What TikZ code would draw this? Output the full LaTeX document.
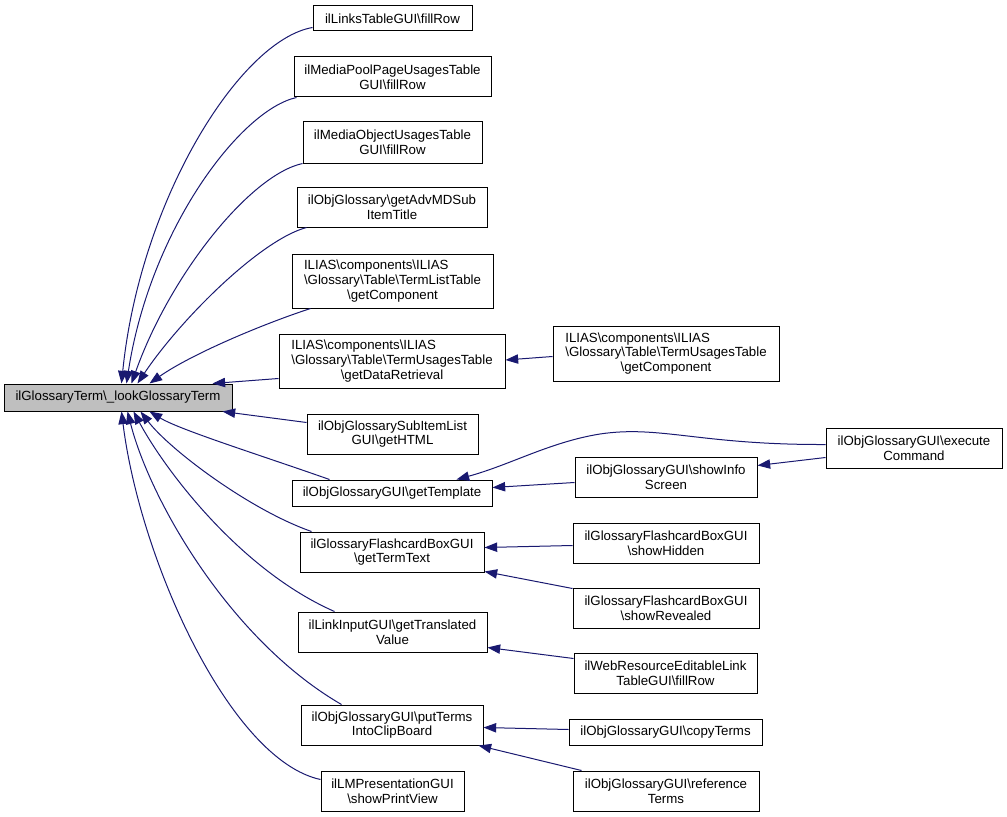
\documentclass[tikz,border=0pt]{standalone}
\usepackage{fontspec}
\setmainfont{Liberation Sans}
\usetikzlibrary{arrows.meta,calc}
\definecolor{edgeblue}{HTML}{191970}
\definecolor{mainfill}{HTML}{BFBFBF}
\newcommand\dxBS{\textbackslash}
\newcommand\dbox[7][]{\node[dnode,#1,minimum width={(#5-#3)*0.75pt},minimum height={(#6-#4)*0.75pt}] (#2) at ({(#3+#5)/2},{(#4+#6)/2}) {#7};}
\begin{document}
\begin{tikzpicture}[x=0.75pt,y=-0.75pt,
  dnode/.style={draw=black,line width=0.75pt,fill=white,inner sep=0pt,align=center,font=\fontsize{9.95}{11}\selectfont},
  mainnode/.style={fill=mainfill},
  call/.style={draw=edgeblue,line width=0.75pt,-{Triangle[length=9.5pt,width=7pt]}}]
\useasboundingbox (0,0) rectangle (1007,817);
% main
\dbox[mainnode]{main}{4}{384}{232}{411}{ilGlossaryTerm\dxBS\_lookGlossaryTerm}
% middle column
\dbox{links}{313}{6}{472}{31}{ilLinksTableGUI\dxBS fillRow}
\dbox{mpool}{294}{57}{491}{97}{ilMediaPoolPageUsagesTable\\GUI\dxBS fillRow}
\dbox{mobj}{303}{122}{482}{163}{ilMediaObjectUsagesTable\\GUI\dxBS fillRow}
\dbox{advmd}{297}{187}{487}{227}{ilObjGlossary\dxBS getAdvMDSub\\ItemTitle}
\dbox{termlist}{292}{254}{493}{308}{\rlap{ILIAS\dxBS components\dxBS ILIAS}\phantom{\dxBS Glossary\dxBS Table\dxBS TermListTable}\\\dxBS Glossary\dxBS Table\dxBS TermListTable\\\dxBS getComponent}
\dbox{dataret}{279}{334}{505}{388}{\rlap{ILIAS\dxBS components\dxBS ILIAS}\phantom{\dxBS Glossary\dxBS Table\dxBS TermUsagesTable}\\\dxBS Glossary\dxBS Table\dxBS TermUsagesTable\\\dxBS getDataRetrieval}
\dbox{subitem}{307}{414}{478}{454}{ilObjGlossarySubItemList\\GUI\dxBS getHTML}
\dbox{template}{292}{480}{492}{506}{ilObjGlossaryGUI\dxBS getTemplate}
\dbox{termtext}{300}{532}{484}{572}{ilGlossaryFlashcardBoxGUI\\\dxBS getTermText}
\dbox{translated}{298}{612}{487}{652}{ilLinkInputGUI\dxBS getTranslated\\Value}
\dbox{putterms}{301}{705}{483}{745}{ilObjGlossaryGUI\dxBS putTerms\\IntoClipBoard}
\dbox{printview}{321}{771}{464}{811}{ilLMPresentationGUI\\\dxBS showPrintView}
% right column
\dbox{tucomp}{553}{326}{779}{381}{\rlap{ILIAS\dxBS components\dxBS ILIAS}\phantom{\dxBS Glossary\dxBS Table\dxBS TermUsagesTable}\\\dxBS Glossary\dxBS Table\dxBS TermUsagesTable\\\dxBS getComponent}
\dbox{infoscreen}{575}{457}{757}{497}{ilObjGlossaryGUI\dxBS showInfo\\Screen}
\dbox{hidden}{573}{523}{759}{563}{ilGlossaryFlashcardBoxGUI\\\dxBS showHidden}
\dbox{revealed}{573}{588}{759}{628}{ilGlossaryFlashcardBoxGUI\\\dxBS showRevealed}
\dbox{webres}{574}{653}{757}{693}{ilWebResourceEditableLink\\TableGUI\dxBS fillRow}
\dbox{copyterms}{569}{719}{762}{745}{ilObjGlossaryGUI\dxBS copyTerms}
\dbox{refterms}{573}{771}{759}{811}{ilObjGlossaryGUI\dxBS reference\\Terms}
% far right
\dbox{execcmd}{826}{428}{1002}{468}{ilObjGlossaryGUI\dxBS execute\\Command}
% edges into main (top)
\draw[call] ($(links.south west)+(0,-4)$) .. controls (240,40) and (140,200) .. ($(main.north west)+(118,0)$);
\draw[call] ($(mpool.south west)+(3,0)$) .. controls (240,110) and (150,230) .. ($(main.north west)+(123,0)$);
\draw[call] ($(mobj.south west)+(0,0)$) .. controls (250,175) and (170,275) .. ($(main.north west)+(128,0)$);
\draw[call] ($(advmd.south west)+(10,0)$) .. controls (260,240) and (180,320) .. ($(main.north west)+(134,0)$);
\draw[call] ($(termlist.south west)+(19,0)$) .. controls (260,325) and (190,355) .. ($(main.north west)+(146,0)$);
\draw[call] ($(dataret.south west)+(0,-10)$) -- ($(main.north west)+(209,0)$);
% edges into main (bottom)
\draw[call] ($(subitem.north west)+(0,9)$) -- ($(main.south west)+(219,0)$);
\draw[call] ($(template.north west)+(38,0)$) .. controls (260,455) and (180,430) .. ($(main.south west)+(146,0)$);
\draw[call] ($(termtext.north west)+(12,0)$) .. controls (250,510) and (170,450) .. ($(main.south west)+(137,0)$);
\draw[call] ($(translated.north west)+(37,0)$) .. controls (240,570) and (165,470) .. ($(main.south west)+(130,0)$);
\draw[call] ($(putterms.north west)+(41,0)$) .. controls (230,640) and (150,500) .. ($(main.south west)+(124,0)$);
\draw[call] ($(printview.north west)+(0,9)$) .. controls (230,760) and (140,560) .. ($(main.south west)+(118,0)$);
% right-side edges
\draw[call] ($(tucomp.west)+(0,3)$) -- ($(dataret.east)+(0,-1)$);
\draw[call] ($(execcmd.north west)+(0,17)$) .. controls (700,445) and (660,425) .. (600,434) .. controls (550,442) and (510,465) .. ($(template.north west)+(165,0)$);
\draw[call] ($(execcmd.north west)+(0,30)$) -- ($(infoscreen.north east)+(0,9)$);
\draw[call] ($(infoscreen.north west)+(0,26)$) -- ($(template.north east)+(0,8)$);
\draw[call] ($(hidden.north west)+(0,23)$) -- ($(termtext.north east)+(0,16)$);
\draw[call] ($(revealed.north west)+(0,1)$) -- ($(termtext.south east)+(0,-1)$);
\draw[call] ($(webres.north west)+(0,6)$) -- ($(translated.north east)+(0,36)$);
\draw[call] ($(copyterms.north west)+(0,11)$) -- ($(putterms.north east)+(0,23)$);
\draw[call] ($(refterms.north west)+(9,0)$) -- ($(putterms.south east)+(-5,0)$);
\end{tikzpicture}
\end{document}
